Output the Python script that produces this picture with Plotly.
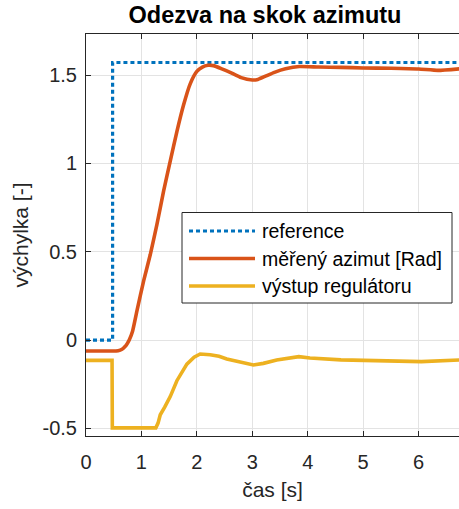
import plotly.graph_objects as go

# ---- data ----
t_ref = [0, 0.48, 6.75]
y_ref = [0, 1.5708, 1.5708]

t_az = [0, 0.58, 0.65, 0.70, 0.74, 0.78, 0.84, 0.92, 1.04, 1.16, 1.28, 1.40, 1.52,
        1.64, 1.76, 1.88, 2.0, 2.1, 2.2, 2.3, 2.45, 2.6, 2.8, 3.0, 3.1, 3.25, 3.4,
        3.6, 3.85, 4.2, 4.6, 5.0, 5.5, 6.0, 6.35, 6.75]
y_az = [-0.062, -0.060, -0.052, -0.038, -0.022, 0.0, 0.05, 0.166, 0.335, 0.484,
        0.654, 0.843, 1.013, 1.18, 1.33, 1.45, 1.52, 1.545, 1.555, 1.553, 1.535,
        1.515, 1.485, 1.472, 1.475, 1.495, 1.515, 1.535, 1.548, 1.545, 1.543, 1.54,
        1.538, 1.534, 1.526, 1.535]

t_reg = [0, 0.47, 0.475, 1.26, 1.30, 1.34, 1.42, 1.52, 1.64, 1.74, 1.82, 1.95, 2.06,
         2.24, 2.4, 2.54, 2.8, 3.02, 3.2, 3.44, 3.84, 4.04, 4.6, 5.2, 6.05, 6.75]
y_reg = [-0.115, -0.115, -0.497, -0.497, -0.47, -0.423, -0.38, -0.32, -0.23, -0.175,
         -0.136, -0.097, -0.079, -0.083, -0.092, -0.107, -0.125, -0.141, -0.132,
         -0.113, -0.094, -0.102, -0.112, -0.117, -0.122, -0.113]

names = ["reference", "měřený azimut [Rad]", "výstup regulátoru"]
colors = ["#0072BD", "#D95319", "#EDB120"]
dashes = ["4px,3px", "solid", "solid"]

x_ticks = [0, 1, 2, 3, 4, 5, 6]
y_ticks = [-0.5, 0, 0.5, 1, 1.5]
y_ticktext = ["-0.5", "0", "0.5", "1", "1.5"]

FONT = "Liberation Sans"
W, H = 459, 509
ML, MR, MT, MB = 86, 0, 34, 73
PW, PH = W - ML - MR, H - MT - MB


def px(xp):
    return (xp - ML) / PW


def py(yp):
    return (H - MB - yp) / PH


fig = go.Figure()
fig.add_trace(go.Scatter(x=t_ref, y=y_ref, mode="lines", name=names[0], line_shape="hv",
                         line=dict(color=colors[0], width=3.2, dash=dashes[0])))
fig.add_trace(go.Scatter(x=t_az, y=y_az, mode="lines", name=names[1], line_shape="spline",
                         line=dict(color=colors[1], width=3.6, smoothing=0.5)))
fig.add_trace(go.Scatter(x=t_reg, y=y_reg, mode="lines", name=names[2],
                         line=dict(color=colors[2], width=3.6)))

# legend box (drawn like the MATLAB legend)
shapes = [dict(type="rect", xref="paper", yref="paper", x0=px(182), x1=px(452),
               y0=py(303), y1=py(212.5), line=dict(color="#262626", width=1),
               fillcolor="white", layer="above")]
annotations = []
rows = [231, 258.5, 286]
for name, col, dsh, ry in zip(names, colors, dashes, rows):
    shapes.append(dict(type="line", xref="paper", yref="paper", x0=px(189), x1=px(255),
                       y0=py(ry), y1=py(ry), layer="above",
                       line=dict(color=col, width=3.4 if dsh == "solid" else 3.2, dash=dsh)))
    annotations.append(dict(text=name, xref="paper", yref="paper", x=px(260), y=py(ry),
                            xanchor="left", yanchor="middle", showarrow=False,
                            font=dict(family=FONT, size=19.5, color="#000000")))

fig.update_layout(
    width=W, height=H,
    margin=dict(l=ML, r=MR, t=MT, b=MB),
    plot_bgcolor="white", paper_bgcolor="white",
    font=dict(family=FONT, color="#262626", size=20),
    title=dict(text="<b>Odezva na skok azimutu</b>", x=265 / W, xref="container",
               xanchor="center", y=1 - 15 / H, yref="container", yanchor="middle",
               font=dict(family=FONT, size=23.5, color="#000000")),
    showlegend=False,
    shapes=shapes, annotations=annotations,
    xaxis=dict(range=[0, 6.73], tickvals=x_ticks, ticks="inside", ticklen=5,
               tickcolor="#262626", showline=True, linecolor="#262626", linewidth=1,
               mirror="ticks", showgrid=True, gridcolor="#e3e3e3", zeroline=False,
               ticklabelstandoff=8,
               tickfont=dict(size=20), title=dict(text="čas [s]", font=dict(size=21), standoff=10)),
    yaxis=dict(range=[-0.543, 1.732], tickvals=y_ticks, ticktext=y_ticktext, ticks="inside",
               ticklen=5, tickcolor="#262626", showline=True, linecolor="#262626", linewidth=1,
               mirror=False, showgrid=True, gridcolor="#e3e3e3", zeroline=False,
               ticklabelstandoff=4,
               tickfont=dict(size=20), title=dict(text="výchylka [-]", font=dict(size=21), standoff=8)),
)

fig.write_html("out.html")
